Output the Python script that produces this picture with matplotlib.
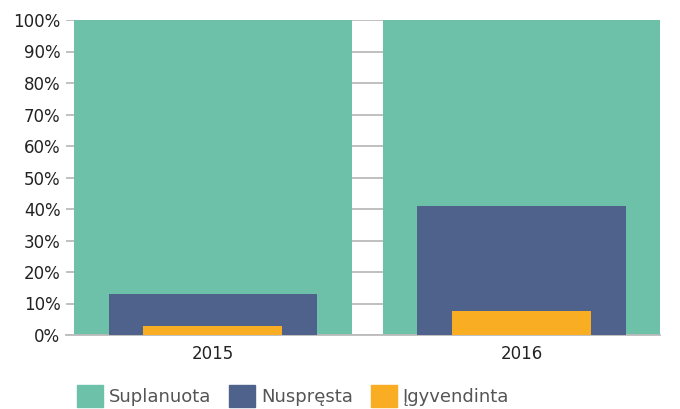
import matplotlib.pyplot as plt
from matplotlib.patches import Patch
import numpy as np

# data
years = ["2015", "2016"]
suplanuota = [100, 100]
nuspresta = [13, 41]
igyvendinta = [3, 7.6]
yticks = [0, 10, 20, 30, 40, 50, 60, 70, 80, 90, 100]

green = "#6cc1a8"
blue = "#4f628c"
orange = "#f8ad22"

fig = plt.figure(figsize=(6.8, 4.09), dpi=100)
ax = fig.add_axes([66 / 680, 1 - 335 / 409, (660 - 66) / 680, 315 / 409])

x = np.arange(len(years))
ax.bar(x, suplanuota, width=0.9, color=green, zorder=2)
ax.bar(x, nuspresta, width=0.675, color=blue, zorder=3)
ax.bar(x, igyvendinta, width=0.45, color=orange, zorder=4)

# pixel-matched x range
ax.set_xlim(-0.476, 1.449)
ax.set_ylim(0, 100)
ax.set_yticks(yticks)
ax.set_yticklabels([f"{v}%" for v in yticks])
ax.set_xticks(x)
ax.set_xticklabels(years)
ax.tick_params(axis="y", length=0, pad=4, labelsize=12, labelcolor="#222222")
ax.tick_params(axis="x", length=0, pad=7, labelsize=12, labelcolor="#222222")

ax.grid(axis="y", color="#bbbbbb", linewidth=1.3, zorder=0)
for s in ["left", "right", "top"]:
    ax.spines[s].set_visible(False)
ax.spines["bottom"].set_color("#bbbbbb")
ax.spines["bottom"].set_linewidth(1.3)

handles = [Patch(color=green, label="Suplanuota"),
           Patch(color=blue, label="Nuspręsta"),
           Patch(color=orange, label="Įgyvendinta")]
leg = fig.legend(handles=handles, loc="lower left", bbox_to_anchor=(70 / 680, -0.012),
                 ncol=3, frameon=False, fontsize=13, handlelength=1.45, handleheight=1.45,
                 handletextpad=0.3, columnspacing=1.0, borderaxespad=0)
for t in leg.get_texts():
    t.set_color("#555555")

fig.savefig("out.png", dpi=100)
